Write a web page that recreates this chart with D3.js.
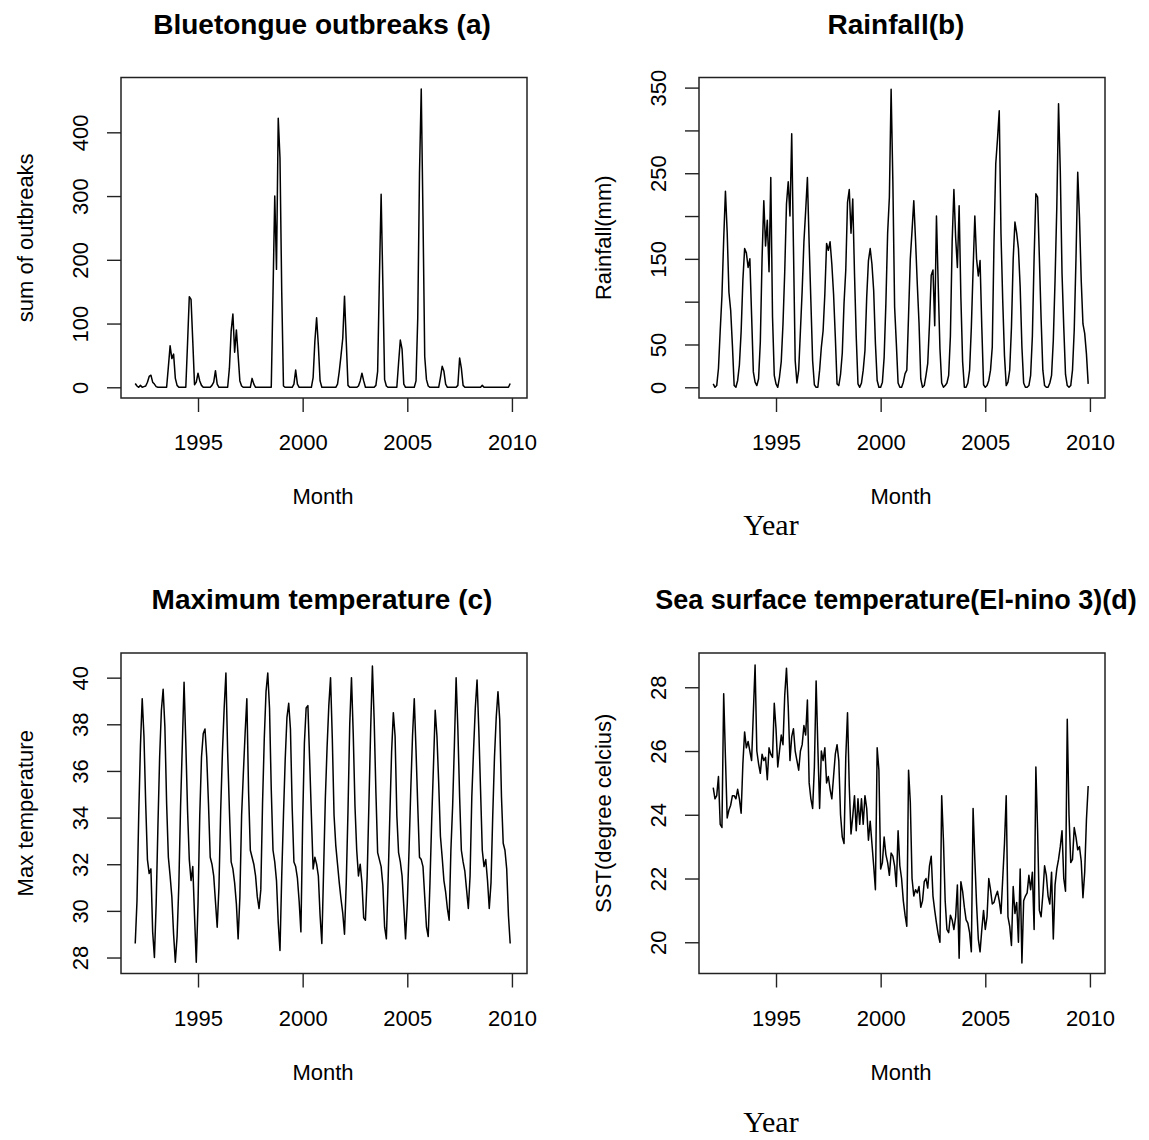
<!DOCTYPE html>
<html>
<head>
<meta charset="utf-8">
<script src="https://cdn.jsdelivr.net/npm/d3@7"></script>
<style>
  body { margin: 0; background: #fff; }
  text { font-family: "Liberation Sans", Arial, sans-serif; fill: #000; }
</style>
</head>
<body>
<svg id="chart" width="1149" height="1140"></svg>
<script>
// monthly series, Jan 1992 - Dec 2009 (one row per year)
var startYear = 1992;
var yearTicks = [1995, 2000, 2005, 2010];

var outbreaks = [
  6, 2, 0, 3, 0, 1, 2, 8, 17, 19, 8, 5,
  1, 0, 0, 0, 0, 0, 0, 32, 65, 45, 52, 14,
  3, 0, 0, 0, 0, 0, 69, 142, 138, 72, 4, 8,
  22, 10, 3, 0, 0, 0, 0, 0, 3, 8, 26, 5,
  0, 0, 0, 0, 0, 0, 30, 88, 115, 55, 90, 50,
  10, 2, 0, 0, 0, 0, 0, 14, 5, 0, 0, 0,
  0, 0, 0, 0, 0, 0, 0, 148, 300, 185, 422, 360,
  150, 2, 0, 0, 0, 0, 0, 5, 27, 5, 0, 0,
  0, 0, 0, 0, 0, 0, 15, 72, 109, 66, 10, 0,
  0, 0, 0, 0, 0, 0, 0, 0, 5, 25, 50, 77,
  143, 72, 3, 0, 0, 0, 0, 0, 2, 10, 22, 10,
  0, 0, 0, 0, 0, 0, 3, 25, 170, 303, 160, 12,
  2, 0, 0, 0, 0, 0, 0, 38, 74, 60, 5, 0,
  0, 0, 0, 0, 0, 10, 109, 336, 468, 268, 48, 12,
  2, 0, 0, 0, 0, 0, 0, 15, 33, 25, 5, 0,
  0, 0, 0, 0, 0, 3, 46, 30, 3, 0, 0, 0,
  0, 0, 0, 0, 0, 0, 0, 3, 0, 0, 0, 0,
  0, 0, 0, 0, 0, 0, 0, 0, 0, 0, 0, 6
];

var rainfall = [
  4, 0, 2, 22, 66, 107, 173, 229, 181, 111, 90, 49,
  2, 0, 8, 26, 65, 125, 162, 157, 140, 150, 84, 18,
  6, 2, 10, 53, 150, 218, 165, 195, 135, 245, 82, 14,
  4, 0, 12, 30, 74, 135, 214, 240, 200, 296, 164, 31,
  5, 20, 66, 113, 170, 206, 245, 168, 100, 31, 3, 0,
  0, 20, 47, 66, 109, 168, 160, 170, 144, 109, 59, 4,
  2, 15, 40, 98, 137, 216, 231, 180, 220, 133, 59, 4,
  0, 5, 20, 43, 105, 148, 162, 144, 113, 51, 8, 0,
  0, 6, 35, 98, 180, 222, 348, 240, 94, 51, 5, 0,
  0, 6, 16, 20, 84, 150, 183, 218, 172, 121, 75, 10,
  0, 2, 14, 28, 74, 131, 137, 72, 200, 120, 45, 5,
  0, 2, 5, 14, 60, 170, 231, 175, 140, 212, 105, 30,
  0, 0, 5, 20, 70, 137, 200, 150, 130, 148, 70, 3,
  0, 2, 8, 20, 47, 170, 261, 290, 323, 179, 101, 37,
  2, 6, 20, 70, 150, 193, 180, 162, 117, 47, 5, 0,
  0, 2, 14, 60, 152, 226, 222, 152, 80, 20, 2, 0,
  0, 5, 14, 55, 125, 210, 331, 253, 133, 70, 15, 2,
  0, 2, 20, 67, 150, 251, 199, 125, 74, 63, 39, 4
];

var maxTemp = [
  28.6, 30.4, 34.1, 37.1, 39.1, 37.5, 34.6, 32.2, 31.6, 31.8, 29.1, 28.0,
  30.3, 33.6, 36.6, 38.6, 39.5, 37.9, 34.6, 32.3, 31.5, 30.6, 29.0, 27.8,
  28.9, 31.1, 34.5, 37.1, 39.8, 37.2, 34.3, 32.2, 31.3, 31.9, 29.8, 27.8,
  30.3, 34.1, 36.6, 37.6, 37.8, 36.6, 34.6, 32.3, 32.0, 31.5, 30.4, 29.3,
  31.0, 34.3, 36.8, 38.7, 40.2, 36.8, 34.3, 32.1, 31.8, 31.2, 30.3, 28.8,
  30.6, 34.1, 35.9, 37.6, 39.1, 35.1, 32.6, 32.3, 32.0, 31.5, 30.6, 30.1,
  30.9, 34.6, 37.4, 39.4, 40.2, 38.7, 35.2, 32.6, 32.1, 31.3, 29.5, 28.3,
  31.5, 34.1, 36.5, 38.3, 38.9, 37.8, 34.4, 32.1, 31.9, 31.4, 30.4, 29.1,
  33.8, 37.2, 38.7, 38.8, 36.5, 34.1, 31.8, 32.3, 32.0, 31.5, 29.8, 28.6,
  31.7, 34.8, 37.0, 38.8, 40.0, 37.4, 34.1, 32.8, 32.0, 31.2, 30.5, 29.9,
  29.0, 31.2, 34.3, 38.0, 40.0, 37.6, 34.5, 32.6, 31.5, 32.0, 31.2, 29.7,
  29.6, 31.5, 34.6, 37.8, 40.5, 38.2, 35.1, 32.5, 32.2, 31.9, 31.1, 29.3,
  28.8, 31.3, 34.1, 36.8, 38.5, 37.5, 34.1, 32.5, 32.1, 31.5, 30.2, 28.8,
  30.3, 32.6, 35.2, 37.5, 39.1, 36.9, 34.5, 32.3, 32.2, 31.9, 30.6, 29.3,
  28.9, 31.2, 33.9, 36.2, 38.6, 37.5, 35.5, 33.2, 32.3, 31.3, 30.8, 30.1,
  29.6, 32.6, 34.5, 37.1, 40.0, 37.8, 34.9, 32.6, 32.1, 31.7, 30.9, 30.1,
  31.5, 34.9, 36.9, 38.7, 39.9, 37.8, 35.2, 32.6, 31.9, 32.2, 31.3, 30.1,
  31.2, 34.1, 36.6, 38.3, 39.4, 38.2, 34.9, 32.9, 32.6, 31.8, 29.8, 28.6
];

var sst = [
  24.85, 24.5, 24.6, 25.2, 23.7, 23.6, 27.8, 25.8, 23.9, 24.15, 24.3, 24.6,
  24.6, 24.5, 24.8, 24.5, 24.05, 25.6, 26.6, 26.1, 26.3, 26.0, 25.7, 27.2,
  28.7, 26.0, 25.6, 25.3, 25.9, 25.7, 25.8, 25.1, 26.1, 25.9, 25.8, 27.5,
  26.7, 25.5, 26.0, 26.5, 26.2, 27.75, 28.6, 27.4, 25.7, 26.45, 26.7, 26.0,
  25.7, 25.4, 26.0, 26.2, 26.8, 26.5, 27.6, 25.0, 24.5, 24.2, 25.5, 28.2,
  26.1, 24.2, 26.0, 25.7, 26.1, 25.0, 25.2, 24.8, 24.5, 25.2, 25.9, 26.2,
  25.7, 24.0, 23.3, 23.1, 25.8, 27.2, 24.9, 23.4, 23.95, 24.6, 23.5, 24.5,
  23.7, 24.5, 23.7, 24.6, 24.2, 23.2, 23.8, 23.1, 22.4, 21.65, 26.1, 25.4,
  22.3, 22.5, 23.3, 22.75, 22.5, 22.1, 22.8, 22.7, 22.4, 21.75, 23.5, 22.4,
  22.0, 21.3, 20.85, 20.5, 25.4, 24.4, 22.0, 21.45, 21.65, 21.55, 21.75, 21.1,
  21.3, 21.9, 22.0, 21.7, 22.4, 22.7, 21.45, 21.0, 20.6, 20.25, 20.0, 24.6,
  23.2, 21.3, 20.4, 20.3, 20.85, 20.7, 20.4, 20.8, 21.8, 19.5, 21.9, 21.6,
  21.1, 20.7, 20.6, 20.3, 19.7, 24.2, 22.6, 21.2, 20.1, 19.7, 20.4, 21.0,
  20.4, 20.8, 22.0, 21.65, 21.2, 21.25, 21.45, 21.6, 21.3, 20.9, 22.0, 23.1,
  24.6, 20.8, 20.5, 19.9, 21.75, 20.9, 21.25, 20.0, 22.3, 19.35, 21.3, 21.45,
  21.55, 22.1, 21.65, 22.2, 20.4, 25.5, 23.5, 21.0, 20.8, 21.5, 22.4, 22.1,
  21.45, 21.2, 22.2, 20.1, 21.8, 22.3, 22.6, 23.0, 23.5, 22.0, 21.6, 27.0,
  24.0, 22.5, 22.6, 23.6, 23.3, 22.9, 23.0, 22.55, 21.4, 22.2, 23.85, 24.9
];

var outbreakTicks = [0, 100, 200, 300, 400];
var rainTicks = [0, 50, 100, 150, 200, 250, 300, 350];
var rainLabels = [0, 50, 150, 250, 350];
var tempTicks = [28, 30, 32, 34, 36, 38, 40];
var sstTicks = [20, 22, 24, 26, 28];

var svg = d3.select("#chart");
var boxW = 406, boxH = 320.5;

var panels = [
  { title: "Bluetongue outbreaks (a)", ylab: "sum of outbreaks", values: outbreaks,
    ticks: outbreakTicks, labels: outbreakTicks, yDomain: [-16.8, 486], left: 121, top: 77.5, cx: 322, fs: 28 },
  { title: "Rainfall(b)", ylab: "Rainfall(mm)", values: rainfall,
    ticks: rainTicks, labels: rainLabels, yDomain: [-12.5, 361.8], left: 699, top: 77.5, cx: 896, fs: 28 },
  { title: "Maximum temperature (c)", ylab: "Max temperature", values: maxTemp,
    ticks: tempTicks, labels: tempTicks, yDomain: [27.315, 41.057], left: 121, top: 653, cx: 322, fs: 28 },
  { title: "Sea surface temperature(El-nino 3)(d)", ylab: "SST(degree celcius)", values: sst,
    ticks: sstTicks, labels: sstTicks, yDomain: [19.02, 29.075], left: 699, top: 653, cx: 896, fs: 27 }
];

panels.forEach(function(p) {
  var x = d3.scaleLinear().domain([1991.32, 2010.72]).range([p.left, p.left + boxW]);
  var y = d3.scaleLinear().domain(p.yDomain).range([p.top + boxH, p.top]);
  var bottom = p.top + boxH;

  var data = p.values.map(function(v, i) { return { t: startYear + i / 12, v: v }; });

  var line = d3.line()
    .x(function(d) { return x(d.t); })
    .y(function(d) { return y(d.v); });

  svg.append("path")
    .datum(data)
    .attr("d", line)
    .attr("fill", "none")
    .attr("stroke", "#000")
    .attr("stroke-width", 1.5)
    .attr("stroke-linejoin", "round");

  // plot box
  svg.append("rect")
    .attr("x", p.left).attr("y", p.top)
    .attr("width", boxW).attr("height", boxH)
    .attr("fill", "none").attr("stroke", "#222").attr("stroke-width", 1.5);

  // x axis
  var gx = svg.append("g")
    .attr("transform", "translate(0," + bottom + ")")
    .call(d3.axisBottom(x).tickValues(yearTicks).tickSize(14).tickFormat(d3.format("d")));
  gx.select(".domain").remove();
  gx.selectAll("line").attr("stroke", "#222").attr("stroke-width", 1.4);
  gx.selectAll("text")
    .attr("y", 52).attr("dy", null)
    .style("font-size", "22px").style("font-family", null).attr("fill", "#000");

  // y axis, labels drawn parallel to the axis
  var gy = svg.append("g")
    .attr("transform", "translate(" + p.left + ",0)")
    .call(d3.axisLeft(y).tickValues(p.ticks).tickSize(14)
      .tickFormat(function(d) { return p.labels.indexOf(d) >= 0 ? d : ""; }));
  gy.select(".domain").remove();
  gy.selectAll("line").attr("stroke", "#222").attr("stroke-width", 1.4);
  gy.selectAll("text")
    .attr("x", null).attr("dy", null)
    .attr("transform", "translate(-33,0) rotate(-90)")
    .style("text-anchor", "middle")
    .style("font-size", "22px").style("font-family", null).attr("fill", "#000");

  // titles
  svg.append("text")
    .attr("x", p.cx).attr("y", p.top - 44)
    .attr("text-anchor", "middle")
    .style("font-size", p.fs + "px").style("font-weight", "bold")
    .text(p.title);

  svg.append("text")
    .attr("x", p.left + 202).attr("y", bottom + 106)
    .attr("text-anchor", "middle")
    .style("font-size", "22px")
    .text("Month");

  svg.append("text")
    .attr("transform", "translate(" + (p.left - 88) + "," + (p.top + boxH / 2) + ") rotate(-90)")
    .attr("text-anchor", "middle")
    .style("font-size", "22px")
    .text(p.ylab);
});

// caption text pasted under the right column
[535, 1132].forEach(function(yy) {
  svg.append("text")
    .attr("x", 771).attr("y", yy)
    .attr("text-anchor", "middle")
    .style("font-family", "'Liberation Serif', 'Times New Roman', serif")
    .style("font-size", "30px")
    .text("Year");
});
</script>
</body>
</html>
